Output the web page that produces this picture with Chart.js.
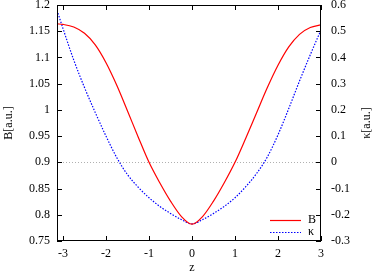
<!DOCTYPE html>
<html>
<head>
<meta charset="utf-8">
<script src="https://cdn.jsdelivr.net/npm/chart.js@4"></script>
<style>
  html, body { margin: 0; padding: 0; background: #fff; }
  #wrap { width: 374px; height: 274px; }
</style>
</head>
<body>
<div id="wrap"><canvas id="canvas" width="374" height="274"></canvas></div>
<script>
// values
var zValues = [-3.14, -3, -2.75, -2.5, -2.25, -2, -1.75, -1.5, -1.25, -1, -0.75, -0.5, -0.25, 0,
               0.25, 0.5, 0.75, 1, 1.25, 1.5, 1.75, 2, 2.25, 2.5, 2.75, 3];
var bValues = [1.164, 1.163, 1.158, 1.146, 1.124, 1.09, 1.047, 0.998, 0.948, 0.9, 0.861, 0.826, 0.797, 0.782,
               0.797, 0.826, 0.861, 0.9, 0.946, 0.994, 1.042, 1.085, 1.12, 1.144, 1.157, 1.162];
var kappaValues = [0.58, 0.51, 0.39, 0.285, 0.19, 0.1, 0.018, -0.047, -0.095, -0.135, -0.168, -0.195, -0.218, -0.235,
                   -0.218, -0.195, -0.168, -0.135, -0.093, -0.043, 0.02, 0.105, 0.205, 0.31, 0.41, 0.505];
var xTicks = [-3, -2, -1, 0, 1, 2, 3];
var bTicks = [0.75, 0.8, 0.85, 0.9, 0.95, 1, 1.05, 1.1, 1.15, 1.2];
var kappaTicks = [-0.3, -0.2, -0.1, 0, 0.1, 0.2, 0.3, 0.4, 0.5, 0.6];

var serif = "'Liberation Serif', 'DejaVu Serif', serif";

function pts(ys) {
    var out = [];
    for (var i = 0; i < zValues.length; i++) out.push({x: zValues[i], y: ys[i]});
    return out;
}
function setTicks(list) {
    return function (s) { s.ticks = list.map(function (v) { return {value: v}; }); };
}
function fixWidth(w) {
    return function (s) { s.width = w; s.paddingTop = 5; s.paddingBottom = 0; };
}

var frame = {
    id: "frame",
    beforeDatasetsDraw: function (chart) {
        var c = chart.ctx, a = chart.chartArea, y = chart.scales.y;
        var py = y.getPixelForValue(0.9);
        c.save();
        c.strokeStyle = "#b0b0b0";
        c.lineWidth = 1;
        c.setLineDash([1, 2]);
        c.beginPath();
        c.moveTo(a.left, Math.round(py) + 0.5);
        c.lineTo(a.right, Math.round(py) + 0.5);
        c.stroke();
        c.restore();
    },
    afterDraw: function (chart) {
        var c = chart.ctx, a = chart.chartArea, s = chart.scales;
        c.save();
        c.strokeStyle = "#000";
        c.lineWidth = 1;
        c.strokeRect(a.left + 0.5, a.top + 0.5, a.right - a.left - 1, a.bottom - a.top - 1);
        c.beginPath();
        xTicks.forEach(function (v) {
            var px = Math.round(s.x.getPixelForValue(v)) + 0.5;
            c.moveTo(px, a.bottom); c.lineTo(px, a.bottom - 5);
            c.moveTo(px, a.top); c.lineTo(px, a.top + 5);
        });
        bTicks.forEach(function (v) {
            var py = Math.round(s.y.getPixelForValue(v)) + 0.5;
            c.moveTo(a.left, py); c.lineTo(a.left + 5, py);
        });
        kappaTicks.forEach(function (v) {
            var py = Math.round(s.y1.getPixelForValue(v)) + 0.5;
            c.moveTo(a.right, py); c.lineTo(a.right - 5, py);
        });
        c.stroke();

        // axis titles
        c.fillStyle = "#000";
        c.font = "12px " + serif;
        c.textAlign = "center";
        c.textBaseline = "middle";
        var midY = (a.top + a.bottom) / 2;
        c.save();
        c.translate(9, midY);
        c.rotate(-Math.PI / 2);
        c.fillText("B[a.u.]", 0, 0);
        c.restore();
        c.save();
        c.translate(367, midY);
        c.rotate(-Math.PI / 2);
        c.fillText("κ[a.u.]", 0, 0);
        c.restore();
        c.fillText("z", s.x.getPixelForValue(0), 268);

        // legend
        var ds = chart.data.datasets;
        var lx0 = 270, lx1 = 301, ly = [220, 232];
        ds.forEach(function (d, i) {
            c.save();
            c.strokeStyle = d.borderColor;
            c.lineWidth = d.borderWidth;
            c.setLineDash(d.borderDash || []);
            c.beginPath();
            c.moveTo(lx0, ly[i] + 0.5);
            c.lineTo(lx1, ly[i] + 0.5);
            c.stroke();
            c.restore();
            c.textAlign = "left";
            c.fillText(d.label, 308, ly[i]);
        });
        c.restore();
    }
};

new Chart("canvas", {
    type: "line",
    data: {
        datasets: [{
            label: "B",
            data: pts(bValues),
            yAxisID: "y",
            borderColor: "rgb(255,0,0)",
            borderWidth: 1.2,
            pointRadius: 0,
            cubicInterpolationMode: "monotone"
        }, {
            label: "κ",
            data: pts(kappaValues),
            yAxisID: "y1",
            borderColor: "rgb(0,0,255)",
            borderWidth: 1.2,
            borderDash: [1.5, 1.5],
            pointRadius: 0,
            cubicInterpolationMode: "monotone"
        }]
    },
    options: {
        responsive: false,
        animation: false,
        devicePixelRatio: 1,
        layout: {padding: {top: 5, left: 0, right: 0, bottom: 0}},
        plugins: {legend: {display: false}, tooltip: {enabled: false}},
        scales: {
            x: {
                type: "linear", position: "bottom", min: -3.14, max: 3,
                afterBuildTicks: setTicks(xTicks),
                afterFit: function (s) { s.height = 33; s.paddingLeft = 0; s.paddingRight = 0; },
                grid: {display: false, drawTicks: false}, border: {display: false},
                ticks: {color: "#000", font: {family: serif, size: 12}, padding: 6}
            },
            y: {
                type: "linear", position: "left", min: 0.75, max: 1.2,
                afterBuildTicks: setTicks(bTicks),
                afterFit: fixWidth(57),
                grid: {display: false, drawTicks: false}, border: {display: false},
                ticks: {color: "#000", font: {family: serif, size: 12}, padding: 7,
                        callback: function (v) { return String(Math.round(v * 100) / 100); }}
            },
            y1: {
                type: "linear", position: "right", min: -0.3, max: 0.6,
                afterBuildTicks: setTicks(kappaTicks),
                afterFit: fixWidth(53),
                grid: {display: false, drawTicks: false}, border: {display: false},
                ticks: {color: "#000", font: {family: serif, size: 12}, padding: 10,
                        callback: function (v) { return String(Math.round(v * 10) / 10); }}
            }
        }
    },
    plugins: [frame]
});
</script>
</body>
</html>
